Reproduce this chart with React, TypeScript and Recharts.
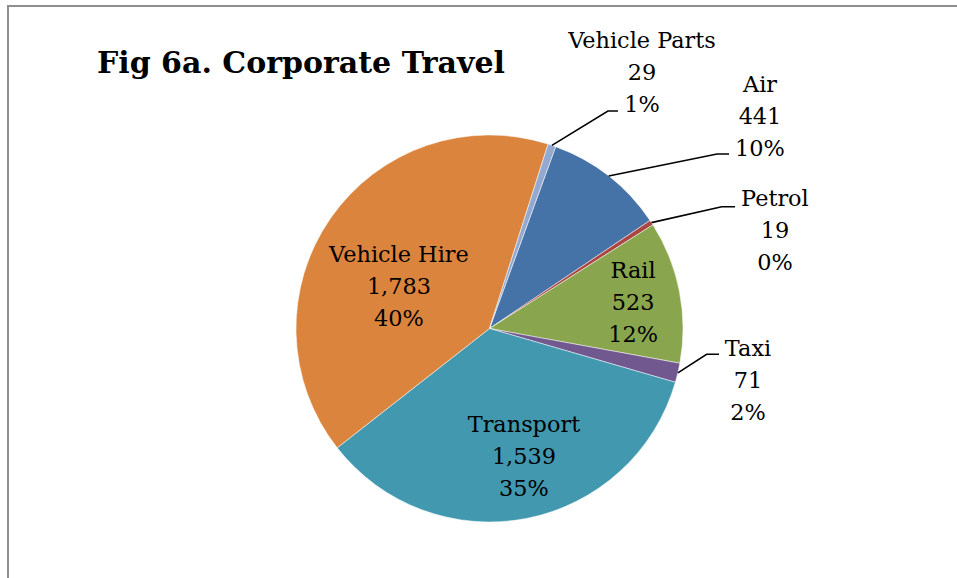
import React from 'react';
import { PieChart, Pie, Cell } from 'recharts';

const categories = ['Air', 'Petrol', 'Rail', 'Taxi', 'Transport', 'Vehicle Hire', 'Vehicle Parts'];
const values = [441, 19, 523, 71, 1539, 1783, 29];
const sliceColors = ['#4572A7', '#AA4643', '#89A54E', '#71588F', '#4198AF', '#DB843D', '#93A9CF'];
const title = 'Fig 6a. Corporate Travel';

const data = categories.map((name, i) => ({ name, value: values[i] }));

// label layout in units of the pie radius, relative to the pie centre
const labelLayout: Record<string, { tx: number; ty: number; elbow?: [number, number]; end?: [number, number] }> = {
  'Air': { tx: 1.398, ty: -1.098, elbow: [1.176, -0.902], end: [1.238, -0.902] },
  'Petrol': { tx: 1.475, ty: -0.509, elbow: [1.2, -0.629], end: [1.269, -0.629] },
  'Rail': { tx: 0.742, ty: -0.137 },
  'Taxi': { tx: 1.336, ty: 0.266, elbow: [1.122, 0.133], end: [1.186, 0.133] },
  'Transport': { tx: 0.178, ty: 0.659 },
  'Vehicle Hire': { tx: -0.468, ty: -0.22 },
  'Vehicle Parts': { tx: 0.788, ty: -1.326, elbow: [0.612, -1.124], end: [0.664, -1.124] },
};

const FONT = '"DejaVu Serif", serif';
const FS = 22.4;
const LINE = 32;
const RAD = Math.PI / 180;

const renderLabel = (props: any) => {
  const { cx, cy, midAngle, outerRadius, name, value, percent } = props;
  const lay = labelLayout[name];
  if (!lay) return null;
  const R = outerRadius;
  const x = cx + lay.tx * R;
  const y = cy + lay.ty * R;
  const base = y + FS * 0.36;
  const lines = [name, Number(value).toLocaleString('en-US'), `${Math.round(percent * 100)}%`];
  let leader = null;
  if (lay.elbow && lay.end) {
    const sx = cx + Math.cos(-midAngle * RAD) * R;
    const sy = cy + Math.sin(-midAngle * RAD) * R;
    const ex = cx + lay.elbow[0] * R;
    const ey = cy + lay.elbow[1] * R;
    const fx = cx + lay.end[0] * R;
    const fy = cy + lay.end[1] * R;
    leader = (
      <polyline points={`${sx},${sy} ${ex},${ey} ${fx},${fy}`} fill="none" stroke="#000" strokeWidth={1.6} />
    );
  }
  return (
    <g>
      {leader}
      {lines.map((t, i) => (
        <text key={i} x={x} y={base + (i - 1) * LINE} textAnchor="middle" fontFamily={FONT} fontSize={FS} fill="#000">
          {t}
        </text>
      ))}
    </g>
  );
};

export default function App() {
  return (
    <div style={{ position: 'absolute', left: 0, top: 0, width: 957, height: 578, background: '#fff', overflow: 'hidden' }}>
      <div style={{ position: 'absolute', left: 7, top: 5, width: 1000, height: 700, borderTop: '2px solid #8f8f8f', borderLeft: '2px solid #8f8f8f', boxSizing: 'border-box' }} />
      <svg width={957} height={578} style={{ position: 'absolute', left: 0, top: 0 }}>
        <text x={97} y={73} fontFamily={FONT} fontWeight="bold" fontSize={30} fill="#000">{title}</text>
      </svg>
      <div style={{ position: 'absolute', left: 0, top: 0 }}>
        <PieChart width={957} height={578} margin={{ top: 0, right: 0, bottom: 0, left: 0 }}>
          <Pie
            data={data}
            dataKey="value"
            nameKey="name"
            cx={489.5}
            cy={328.5}
            outerRadius={193.5}
            startAngle={70}
            endAngle={-290}
            stroke="#ffffff"
            strokeWidth={0.5}
            isAnimationActive={false}
            label={renderLabel}
            labelLine={false}
          >
            {data.map((d, i) => (
              <Cell key={d.name} fill={sliceColors[i]} />
            ))}
          </Pie>
        </PieChart>
      </div>
    </div>
  );
}
